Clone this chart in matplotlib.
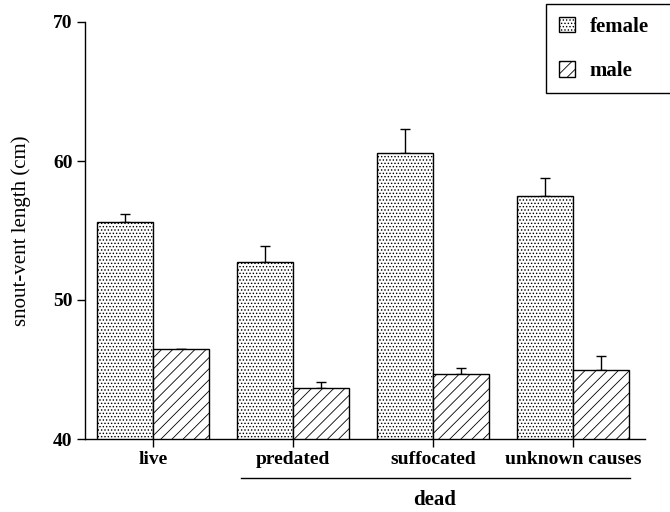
import numpy as np
import matplotlib
matplotlib.use("Agg")
import matplotlib.pyplot as plt

plt.rcParams['font.family'] = ['Liberation Serif', 'DejaVu Serif']
plt.rcParams['hatch.linewidth'] = 0.6

categories = ["live", "predated", "suffocated", "unknown causes"]
female = [55.6, 52.7, 60.6, 57.5]
female_err = [0.6, 1.2, 1.7, 1.3]
male = [46.5, 43.7, 44.7, 45.0]
male_err = [0.0, 0.4, 0.4, 1.0]
group_label = "dead"


def main():
    fig = plt.figure(figsize=(6.7, 5.12), dpi=100)
    ax = fig.add_axes([85 / 670, 73 / 512, 560 / 670, 417 / 512])

    x = np.arange(len(categories))
    w = 0.4

    ax.bar(x - w / 2, female, w, color='white', edgecolor='black',
           hatch='.....', linewidth=1.0, label='female', zorder=2)
    ax.bar(x + w / 2, male, w, color='white', edgecolor='black',
           hatch='///', linewidth=1.0, label='male', zorder=2)

    ax.errorbar(x - w / 2, female, yerr=[np.zeros(4), female_err], fmt='none',
                ecolor='black', elinewidth=1.0, capsize=3.5, capthick=1.0, zorder=1)
    ax.errorbar(x + w / 2, male, yerr=[np.zeros(4), male_err], fmt='none',
                ecolor='black', elinewidth=1.0, capsize=3.5, capthick=1.0, zorder=1)

    ax.set_xlim(-0.486, 3.514)
    ax.set_ylim(40, 70)
    ax.set_yticks([40, 50, 60, 70])
    ax.set_xticks(x)
    ax.set_xticklabels(categories, fontsize=14, fontweight='bold')
    for lab in ax.get_yticklabels():
        lab.set_fontsize(14)
        lab.set_fontweight('bold')
    ax.tick_params(axis='both', direction='out', length=6, width=1.0, pad=3)
    ax.spines['top'].set_visible(False)
    ax.spines['right'].set_visible(False)
    ax.spines['left'].set_linewidth(1.0)
    ax.spines['bottom'].set_linewidth(1.0)

    ax.set_ylabel("snout-vent length (cm)", fontsize=15, labelpad=16)

    # bracket under the dead groups
    fig.add_artist(plt.Line2D([241 / 670, 630 / 670], [1 - 478 / 512, 1 - 478 / 512],
                              color='black', linewidth=1.0))
    fig.text(435 / 670, 1 - 500 / 512, group_label, ha='center', va='center',
             fontsize=15, fontweight='bold')

    leg = fig.legend(loc='upper left', bbox_to_anchor=(546 / 670, 1 - 93 / 512, 0.3, 89 / 512),
                     mode='expand', fancybox=False, edgecolor='black', framealpha=1,
                     prop={'size': 15, 'weight': 'bold'}, handlelength=0.8,
                     handleheight=0.8, handletextpad=0.7, labelspacing=1.15,
                     borderpad=0.6, borderaxespad=0)
    leg.get_frame().set_linewidth(1.0)

    fig.savefig("out.png", dpi=100)


if __name__ == "__main__":
    main()
